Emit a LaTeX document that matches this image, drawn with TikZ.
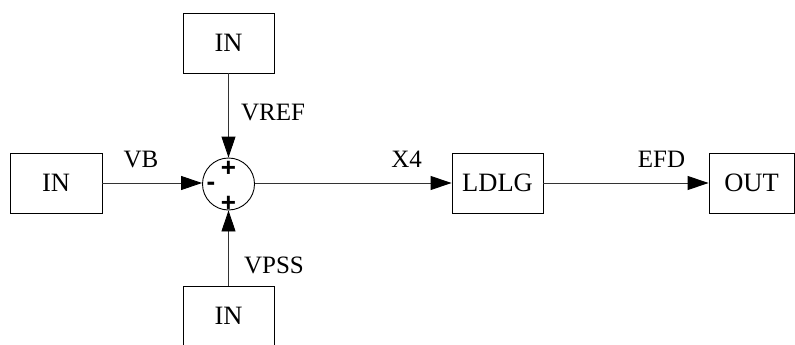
\documentclass[tikz,border=0pt]{standalone}
\usepackage{fontspec}
\setmainfont{Liberation Serif}
\newfontfamily\signfont{Liberation Sans}
\usetikzlibrary{arrows.meta}
\begin{document}
\begin{tikzpicture}[x=1pt,y=-1pt,
  blockbox/.style={draw=black,line width=0.9pt,inner sep=0pt,minimum height=60pt,font=\fontsize{26.5}{30}\selectfont},
  sumnode/.style={draw=black,line width=0.9pt,circle,inner sep=0pt,minimum size=52pt},
  sig/.style={draw=black!80,line width=0.9pt,-{Triangle[length=21pt,width=14pt,fill=black,color=black]}},
  lab/.style={anchor=base,inner sep=0pt,font=\fontsize{25}{28}\selectfont},
  sgn/.style={inner sep=0pt,font=\signfont\bfseries\fontsize{26}{30}\selectfont}]
\useasboundingbox (0,0) rectangle (795,345);
\node[blockbox,minimum width=92pt] (inL) at (56,183) {IN};
\node[blockbox,minimum width=91pt] (inT) at (228.5,43) {IN};
\node[blockbox,minimum width=91pt] (inB) at (228.5,316) {IN};
\node[sumnode] (sum) at (228.5,184) {};
\node[blockbox,minimum width=91pt] (ldlg) at (497.5,183) {LDLG};
\node[blockbox,minimum width=85pt] (out) at (751.5,183) {OUT};
\node[sgn] (pt) at (228.5,169) {+};
\node[sgn] (pb) at (228.5,204) {+};
\node[sgn] (mn) at (211,186) {-};
\draw[sig] (inL.east) -- (inL.east -| sum.west);
\draw[sig] (inT.south) -- (sum.north);
\draw[sig] (inB.north) -- (sum.south);
\draw[sig] (sum.east |- ldlg.west) -- (ldlg.west);
\draw[sig] (ldlg.east) -- (out.west);
\node[lab] (lvb) at (141,167) {VB};
\node[lab] (lx4) at (406.7,167) {X4};
\node[lab] (lefd) at (661.5,167) {EFD};
\node[lab] (lvref) at (273,120) {VREF};
\node[lab] (lvpss) at (274,273.5) {VPSS};
\end{tikzpicture}
\end{document}
